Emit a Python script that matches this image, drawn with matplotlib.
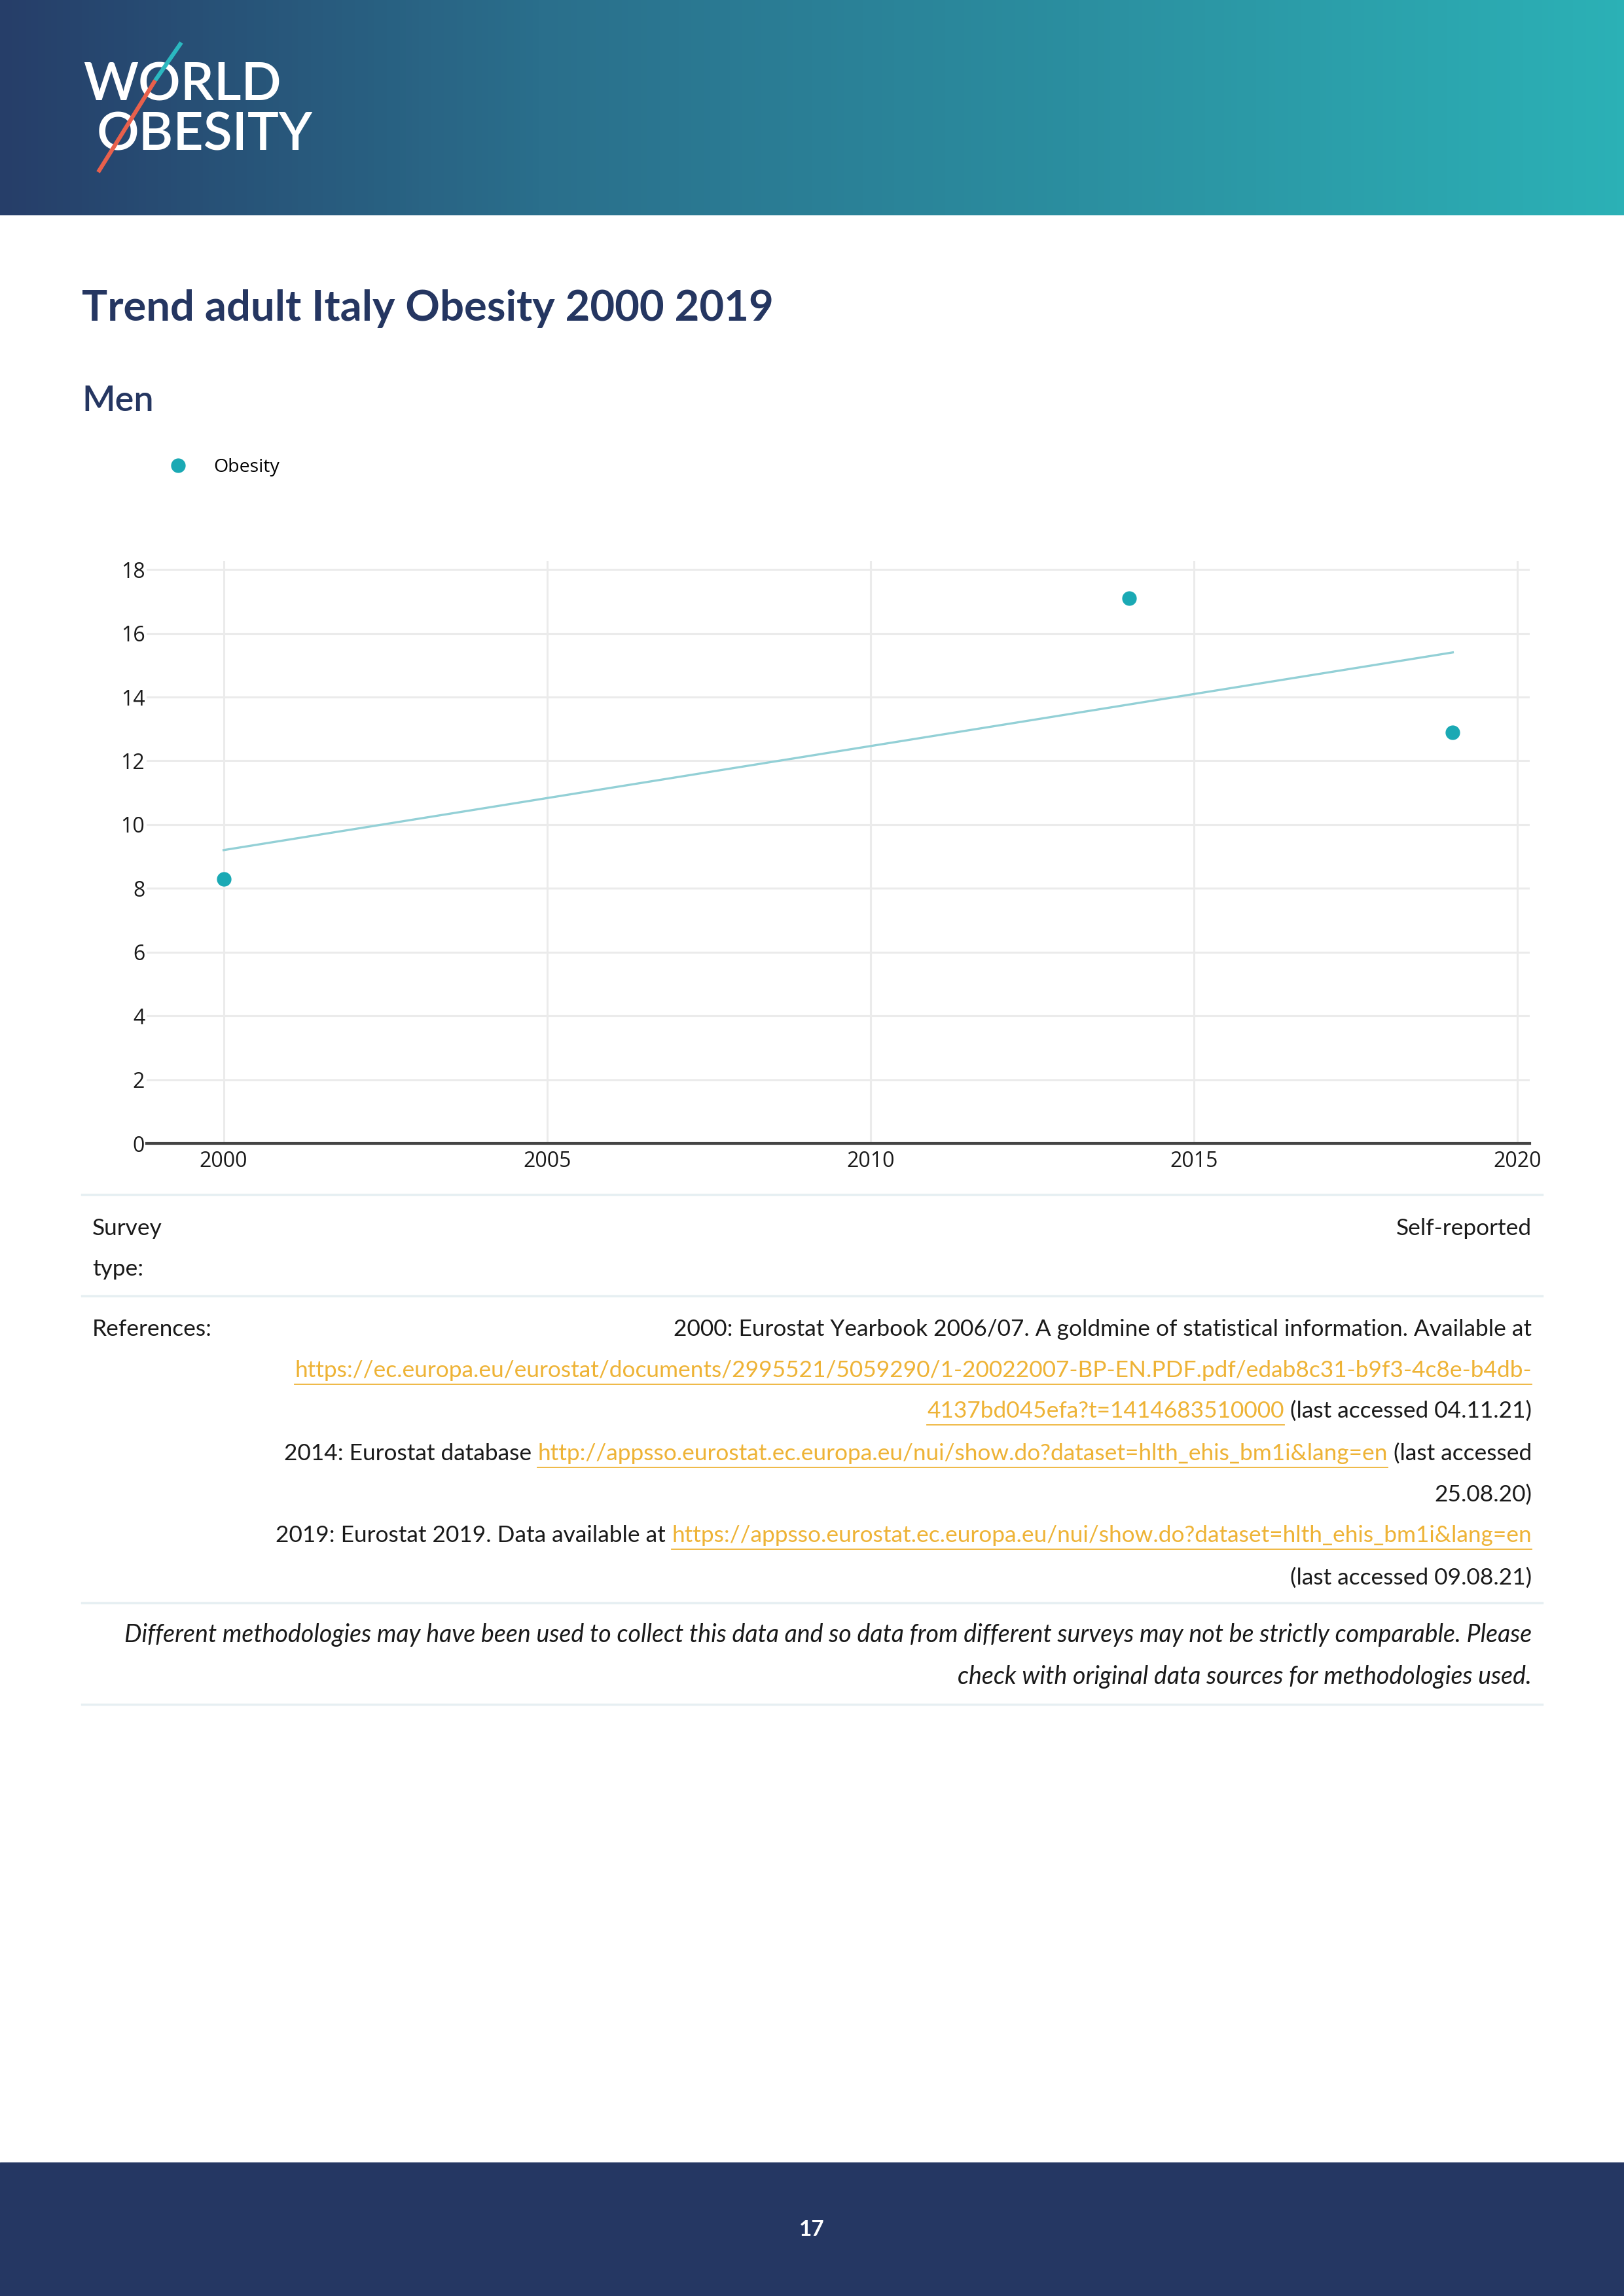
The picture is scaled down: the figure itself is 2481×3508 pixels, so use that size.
# Trend adult Italy Obesity 2000-2019 (Men) - World Obesity country page
import numpy as np
import matplotlib.pyplot as plt
from matplotlib.colors import LinearSegmentedColormap
from matplotlib.lines import Line2D
from matplotlib.patches import Rectangle

# ----------------------------------------------------
# data
# ----------------------------------------------------
years = [2000, 2014, 2019]
obesity = [8.3, 17.1, 12.9]
trend_years = [2000, 2019]
trend_values = [9.2, 15.4]
x_ticks = [2000, 2005, 2010, 2015, 2020]
y_ticks = [0, 2, 4, 6, 8, 10, 12, 14, 16, 18]

title = "Trend adult Italy Obesity 2000 2019"
subtitle = "Men"
legend_label = "Obesity"
survey_label = ["Survey", "type:"]
survey_value = "Self-reported"
refs_label = "References:"
# each line: list of (text, is_link)
ref_lines = [
    [("2000: Eurostat Yearbook 2006/07. A goldmine of statistical information. Available at", False)],
    [("https://ec.europa.eu/eurostat/documents/2995521/5059290/1-20022007-BP-EN.PDF.pdf/edab8c31-b9f3-4c8e-b4db-", True)],
    [("4137bd045efa?t=1414683510000", True), ("(last accessed 04.11.21)", False)],
    [("2014: Eurostat database", False),
     ("http://appsso.eurostat.ec.europa.eu/nui/show.do?dataset=hlth_ehis_bm1i&lang=en", True),
     ("(last accessed", False)],
    [("25.08.20)", False)],
    [("2019: Eurostat 2019. Data available at", False),
     ("https://appsso.eurostat.ec.europa.eu/nui/show.do?dataset=hlth_ehis_bm1i&lang=en", True)],
    [("(last accessed 09.08.21)", False)],
]
note_lines = [
    "Different methodologies may have been used to collect this data and so data from different surveys may not be strictly comparable. Please",
    "check with original data sources for methodologies used.",
]
page_number = "17"

# ----------------------------------------------------
# colours / fonts
# ----------------------------------------------------
NAVY = "#253661"
TEAL = "#1aa9b4"
TREND = "#93d0d6"
LINK = "#eeb336"
INK = "#1a1a1a"
RULE = "#e6eff2"
FONT = "Lato"
TICKFONT = "Open Sans"
BODY = 25.4
NOTE = 27

W, H = 2481, 3508
fig = plt.figure(figsize=(W / 100, H / 100), dpi=100)

# full page overlay in pixel coords (y down)
page = fig.add_axes([0, 0, 1, 1])
page.axis("off")

# header gradient
cmap = LinearSegmentedColormap.from_list("hdr", ["#263e69", "#2a6f8c", "#2b8fa0", "#2bb1b6"])
grad = np.linspace(0, 1, 512).reshape(1, -1)
page.imshow(grad, extent=(0, W, 329, 0), aspect="auto", cmap=cmap, zorder=0)

# logo
page.text(127, 153, "WORLD", color="white", fontsize=58, family=FONT, weight="semibold", va="baseline")
page.text(148, 229, "OBESITY", color="white", fontsize=58, family=FONT, weight="semibold", va="baseline")
page.plot([277, 237], [65, 123], color="#2bb8c0", lw=4.5, solid_capstyle="butt", zorder=3)
page.plot([237, 150], [123, 263], color="#e8604c", lw=4.5, solid_capstyle="butt", zorder=3)

# titles
page.text(125, 490, title, color=NAVY, fontsize=47, family=FONT, weight="bold", va="baseline")
page.text(125, 628, subtitle, color=NAVY, fontsize=39, family=FONT, weight="semibold", va="baseline")

# footer
page.add_patch(Rectangle((0, 3304), W, H - 3304, color="#253763", zorder=0))
page.text(W / 2, 3407, page_number, color="white", fontsize=24, family=FONT, weight="bold",
          ha="center", va="center")

# table rules
for yr in [1825, 1980, 2449, 2604]:
    page.plot([125, 2356], [yr, yr], color=RULE, lw=2.5)

page.set_xlim(0, W)
page.set_ylim(H, 0)

# table text
page.text(141, 1887, survey_label[0], fontsize=BODY, family=FONT, color=INK, va="baseline")
page.text(141, 1949, survey_label[1], fontsize=BODY, family=FONT, color=INK, va="baseline")
page.text(2340, 1887, survey_value, fontsize=BODY, family=FONT, color=INK, va="baseline", ha="right")
page.text(141, 2041, refs_label, fontsize=BODY, family=FONT, color=INK, va="baseline")

renderer = fig.canvas.get_renderer()
gap = BODY * 100 / 72 * 0.26
baselines = [2041, 2104, 2166, 2231, 2294, 2356, 2421]
for y, parts in zip(baselines, ref_lines):
    x = 2340
    for text, is_link in reversed(parts):
        t = page.text(x, y, text, fontsize=BODY, family=FONT, va="baseline", ha="right",
                      color=LINK if is_link else INK)
        w = t.get_window_extent(renderer).width
        if is_link:
            page.plot([x - w, x], [y + 11, y + 11], color=LINK, lw=1.3)
        x -= w + gap

for y, line in zip([2509, 2573], note_lines):
    page.text(2340, y, line, fontsize=NOTE, family=FONT, style="italic", color=INK,
              va="baseline", ha="right")

# ----------------------------------------------------
# chart
# ----------------------------------------------------
ax = fig.add_axes([224 / W, 1 - 1747 / H, (2337 - 224) / W, (1747 - 857) / H])
ax.plot(trend_years, trend_values, color=TREND, lw=2.4, zorder=2)
ax.plot(years, obesity, "o", color=TEAL, markersize=15, zorder=3)

ax.set_xlim(1998.81, 2020.19)
ax.set_ylim(0, 18.27)
ax.set_xticks(x_ticks)
ax.set_yticks(y_ticks)
ax.grid(True, color="#ebebeb", lw=2.2)
ax.set_axisbelow(True)
for s in ax.spines.values():
    s.set_visible(False)
ax.axhline(0, color="#444444", lw=3, zorder=4, clip_on=False)
ax.tick_params(length=0, labelsize=23, labelcolor=INK)
ax.tick_params(axis="x", pad=8)
ax.tick_params(axis="y", pad=2)
for lab in ax.get_xticklabels() + ax.get_yticklabels():
    lab.set_family(TICKFONT)

handle = Line2D([], [], marker="o", color=TEAL, linestyle="none", markersize=15)
fig.legend([handle], [legend_label], loc="center left", bbox_to_anchor=(255 / W, 1 - 714 / H),
           frameon=False, prop={"family": TICKFONT, "size": 20.5}, handletextpad=1.3,
           borderaxespad=0, borderpad=0, handlelength=1.2)

fig.savefig("out.png", dpi=100)
